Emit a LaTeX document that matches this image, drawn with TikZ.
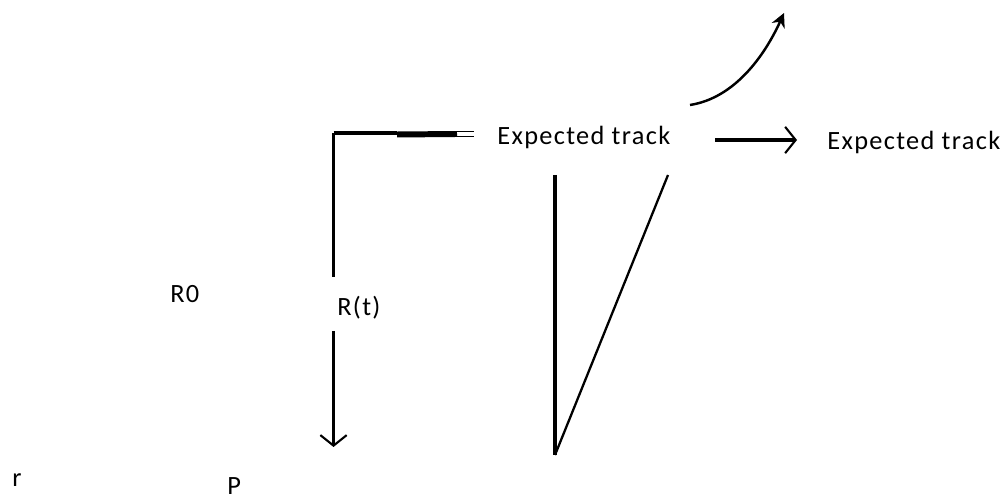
\documentclass[tikz,border=0pt]{standalone}
\usepackage{fontspec}
\setmainfont{Carlito}[LetterSpace=5]
\usetikzlibrary{calc,arrows.meta,positioning}

\begin{document}
\begin{tikzpicture}[x=0.02cm,y=-0.02cm,
  txt/.style={anchor=base west,inner sep=0pt,font=\fontsize{15}{17}\selectfont},
  pen/.style={line width=1.9pt},
  barb/.style={-{Straight Barb[length=6pt,width=15pt,line width=1.2pt]}}]
  \useasboundingbox (0,0) rectangle (1004,499);

  \node[txt] (1) at (497,145) {Expected track};
  \node[txt] (2) at (827,150) {Expected track};
  \node[txt] (3) at (337,316) {R(t)};
  \node[txt] (4) at (170,303) {R0};
  \node[txt] (5) at (12,487) {r};
  \node[txt] (6) at (227,495) {P};

  \coordinate (a) at (333.5,133);
  \coordinate (b) at (397,134.5);
  \coordinate (c) at (457,134);
  \coordinate (d) at (333.5,277);
  \coordinate (e) at (333.5,331);
  \coordinate (f) at (333.5,447);
  \coordinate (g) at (555,175);
  \coordinate (h) at (555,455);
  \coordinate (k) at (668,175);
  \coordinate (m) at (715,140);
  \coordinate (n) at (797,140);
  \coordinate (p) at (690,105);
  \coordinate (q) at (784,13);

  % top bar
  \draw[pen] (a) -- (a-|b);
  \draw[line width=3.4pt] (b) -- (c);
  \draw[line width=1pt] ($(c)+(0,-2.5)$) -- ++(17,0) ($(c)+(0,2.5)$) -- ++(17,0);

  % R(t)
  \draw[pen] (a) -- (d);
  \draw[pen,barb] (e) -- (f);

  % triangle
  \draw[pen] (g) -- (h);
  \draw[line width=1.3pt] (h) -- (k);

  % tracks
  \draw[pen,barb] (m) -- (n);
  \draw[line width=1.4pt,-{Stealth[length=8pt,width=8pt]}] (p) .. controls (735,98) and (765,55) .. (q);
\end{tikzpicture}
\end{document}
